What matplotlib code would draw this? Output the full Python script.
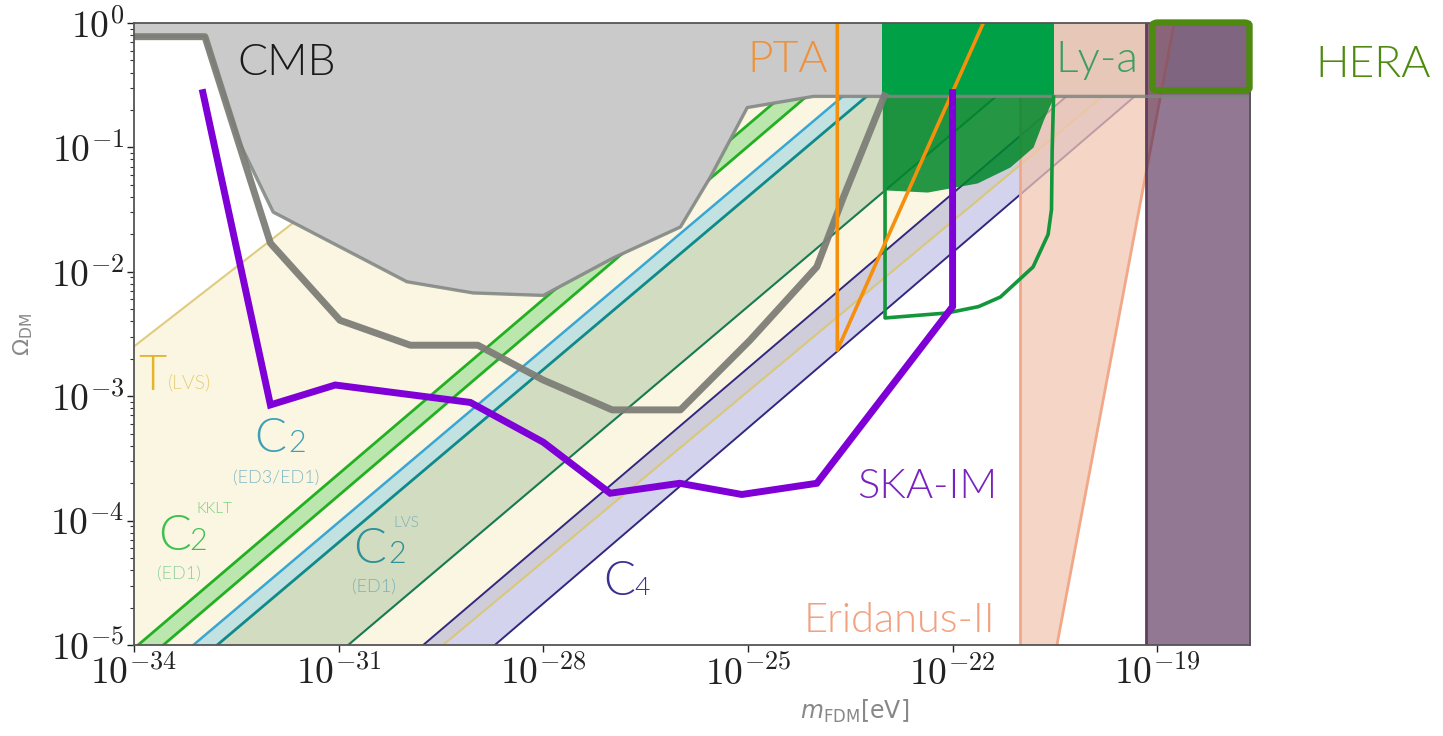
import numpy as np
import matplotlib
matplotlib.use('Agg')
import matplotlib.pyplot as plt
from matplotlib.ticker import FixedLocator, FuncFormatter, LogLocator, NullLocator
from matplotlib.patches import FancyBboxPatch

plt.rcParams['mathtext.fontset'] = 'cm'
plt.rcParams['font.family'] = ['Lato', 'DejaVu Sans']

# ---------------- data (log10 values) ----------------
X_LIM = (-34.0, -17.64)
Y_LIM = (-5.0, 0.0)
X_TICKS = [-34, -31, -28, -25, -22, -19]
Y_TICKS = [-5, -4, -3, -2, -1, 0]

# CMB excluded region (lower edge)
cmb_x = [-34.0, -32.96, -32.45, -31.96, -30.0, -29.03, -28.0, -26.98, -25.99, -25.55, -25.01, -24.04, -17.0]
cmb_y = [-0.11, -0.11, -0.965, -1.52, -2.08, -2.17, -2.19, -1.89, -1.64, -1.238, -0.68, -0.59, -0.59]

# thick gray forecast curve
cmbf_x = [-34.0, -32.96, -32.0, -30.98, -29.95, -28.96, -28.0, -26.99, -25.99, -24.97, -23.99, -23.60, -23.0]
cmbf_y = [-0.11, -0.11, -1.77, -2.39, -2.59, -2.59, -2.87, -3.11, -3.11, -2.55, -1.96, -1.40, -0.585]

# SKA-IM
ska_x = [-32.99, -32.0, -31.05, -29.07, -28.0, -27.02, -26.0, -25.09, -23.99, -22.0, -22.0]
ska_y = [-0.56, -3.07, -2.91, -3.05, -3.37, -3.78, -3.70, -3.79, -3.70, -2.28, -0.56]

# PTA
pta_x = [-23.69, -23.69, -21.55]
pta_y = [0.0, -2.63, 0.0]

# Ly-a : solid block above Omega=0.26, shaded part below, and outline
lya_block_x = [-23.03, -20.52]
lya_low_x = [-23.03, -22.99, -22.37, -21.64, -21.16, -20.82, -20.67, -20.52]
lya_low_y = [-1.342, -1.342, -1.359, -1.286, -1.158, -0.997, -0.780, -0.595]
lya_out_x = [-22.99, -22.99, -22.08, -21.62, -21.30, -20.82, -20.60, -20.55, -20.54, -20.52]
lya_out_y = [-0.595, -2.371, -2.331, -2.280, -2.203, -1.961, -1.700, -1.500, -1.021, -0.595]

# Eridanus-II
eri_left = -21.01
eri_right_x = [-20.47, -18.75]
eri_right_y = [-5.0, 0.0]

# HERA
hera_x = [-19.17, -17.0]

# Omega level where diagonal bands stop
OMEGA_TOP = -0.585
# diagonal lines: x at Omega=1e-5 and x at Omega=OMEGA_TOP
diag = {
    'G1': (-33.94, -24.50),
    'G2': (-33.57, -24.13),
    'B1': (-33.13, -23.60),
    'B2': (-32.78, -23.25),
    'DG': (-30.86, -21.35),
    'C4a': (-29.76, -20.32),
    'Y': (-29.47, -19.79),
    'C4b': (-28.71, -19.32),
}
# upper T(LVS) line: (x, y) end points
tup_x = [-34.0, -29.27]
tup_y = [-2.60, OMEGA_TOP]


def P(v):
    return np.power(10.0, np.asarray(v, dtype=float))


fig = plt.figure(figsize=(14.43, 7.36), dpi=100)
ax = fig.add_axes([0.09286, 0.12364, 0.77339, 0.84511])
ax.set_xscale('log')
ax.set_yscale('log')
ax.set_xlim(P(X_LIM[0]), P(X_LIM[1]))
ax.set_ylim(P(Y_LIM[0]), P(Y_LIM[1]))


def band(a, b, color, alpha, z):
    xa, ya = [diag[a][0], diag[a][1]], [Y_LIM[0], OMEGA_TOP]
    xb, yb = [diag[b][1], diag[b][0]], [OMEGA_TOP, Y_LIM[0]]
    ax.fill(P(xa + xb), P(ya + yb), color=color, alpha=alpha, lw=0, zorder=z)


# T(LVS) cream region
tx = [X_LIM[0], tup_x[0], tup_x[1], diag['Y'][1], diag['Y'][0]]
ty = [Y_LIM[0], tup_y[0], tup_y[1], OMEGA_TOP, Y_LIM[0]]
ax.fill(P(tx), P(ty), color='#f0e4a8', alpha=0.33, lw=0, zorder=1)

band('G1', 'G2', '#6fd46f', 0.45, 1.2)
band('B1', 'B2', '#7fcbe3', 0.45, 1.2)
band('B2', 'DG', '#80aa80', 0.33, 1.2)
band('C4a', 'C4b', '#8c8cd0', 0.38, 1.2)

line_styles = {
    'G1': ('#22b022', 2.0), 'G2': ('#22b022', 2.0),
    'B1': ('#3aa6d2', 1.8), 'B2': ('#0f8a8a', 2.0),
    'DG': ('#177a50', 1.5), 'C4a': ('#33287f', 1.4),
    'Y': ('#d8c878', 1.5), 'C4b': ('#33287f', 1.4),
}
for k, (c, lw) in line_styles.items():
    ax.plot(P(diag[k]), P([Y_LIM[0], OMEGA_TOP]), color=c, lw=lw, zorder=2)
ax.plot(P(tup_x), P(tup_y), color='#e0cc80', lw=1.5, zorder=2)

# CMB region
ax.fill_between(P(cmb_x), P(cmb_y), P(Y_LIM[1]), color='#cacaca', lw=0, zorder=3)

# Eridanus-II
ex = [eri_left, eri_right_x[0], eri_right_x[1], eri_left]
ey = [Y_LIM[0], eri_right_y[0], eri_right_y[1], Y_LIM[1]]
ax.fill(P(ex), P(ey), color='#f1c6b2', alpha=0.73, lw=0, zorder=4)
ax.plot(P([eri_left, eri_left]), P(Y_LIM), color='#f2a888', lw=2, zorder=4.1)
ax.plot(P(eri_right_x), P(eri_right_y), color='#f2a888', lw=2, zorder=4.1)

# Ly-a
ax.fill_between(P(lya_block_x), P(OMEGA_TOP), P(Y_LIM[1]), color='#00a046', lw=0, zorder=5)
ax.fill_between(P(lya_low_x), P(lya_low_y), P(OMEGA_TOP), color='#00872a', alpha=0.86, lw=0, zorder=5)

# HERA
ax.fill_between(P(hera_x), P(Y_LIM[0]), P(Y_LIM[1]), color='#552b55', alpha=0.636, lw=0, zorder=6)
ax.plot(P([hera_x[0], hera_x[0]]), P(Y_LIM), color='#5e3f5e', lw=2, zorder=6.1)

# CMB edge
ax.plot(P(cmb_x), P(cmb_y), color='#7f8580', lw=2.4, alpha=0.85, zorder=7)

# curves
ax.plot(P(lya_out_x), P(lya_out_y), color='#13963c', lw=2.6, zorder=8, solid_joinstyle='round')
ax.plot(P(cmbf_x), P(cmbf_y), color='#7e7e78', lw=5.0, alpha=0.95, zorder=8, solid_joinstyle='round')
ax.plot(P(pta_x), P(pta_y), color='#f5900c', lw=2.6, zorder=8.5)
ax.plot(P(ska_x), P(ska_y), color='#7f00d6', lw=5.0, zorder=9, solid_joinstyle='miter')

# ---------------- axes styling ----------------
ax.xaxis.set_major_locator(FixedLocator(P(X_TICKS)))
ax.xaxis.set_minor_locator(NullLocator())
ax.yaxis.set_major_locator(FixedLocator(P(Y_TICKS)))
ax.yaxis.set_minor_locator(LogLocator(base=10, subs=np.arange(2, 10), numticks=50))
fmt = FuncFormatter(lambda v, pos: r'$10^{%d}$' % int(round(np.log10(v))))
ax.xaxis.set_major_formatter(fmt)
ax.yaxis.set_major_formatter(fmt)
ax.yaxis.set_minor_formatter(FuncFormatter(lambda v, pos: ''))
ax.tick_params(which='major', labelsize=27, length=5, width=1.0, pad=2, colors='#222222')
ax.tick_params(which='minor', length=3, width=0.8, colors='#333333')
for s in ax.spines.values():
    s.set_color('#555555')
    s.set_linewidth(1.3)
    s.set_zorder(10)

ax.set_ylabel(r'$\Omega_{\rm DM}$', fontsize=16, color='#888888', math_fontfamily='dejavusans')
ax.yaxis.set_label_coords(-0.089, 0.5)
ax.set_xlabel(r'$m_{\rm FDM}$[eV]', fontsize=17, color='#888888', math_fontfamily='dejavusans',
              family='DejaVu Sans')
ax.xaxis.set_label_coords(0.646, -0.085)

# ---------------- labels ----------------
W = 300


def T(x, y, s, size, color, z=12):
    ax.text(P(x), P(y), s, fontsize=size, color=color, ha='left', va='baseline',
            fontweight=W, zorder=z)

T(-32.49, -0.418, 'CMB', 32, '#1a1a1a')
T(-25.01, -0.394, 'PTA', 32, '#f0913a')
T(-20.50, -0.394, 'Ly-a', 32, '#3a9f5f')
T(-23.40, -3.818, 'SKA-IM', 30, '#7a22c0')
T(-24.19, -4.895, 'Eridanus-II', 30, '#f2a07e')
T(-27.12, -4.598, 'C', 34, '#3b2f8f')
T(-26.66, -4.598, '4', 19, '#3b2f8f')
T(-33.94, -2.950, 'T', 35, '#e3b52b')
T(-33.50, -2.934, '(LVS)', 14, '#e9cf7a')
T(-32.23, -3.449, 'C', 34, '#3f9fb5')
T(-31.74, -3.449, '2', 22, '#3f9fb5')
T(-32.55, -3.698, '(ED3/ED1)', 13, '#82b8c4')
T(-33.65, -4.236, 'C', 35, '#3fbf4f')
T(-33.19, -4.236, '2', 22, '#3fbf4f')
T(-33.09, -3.939, 'KKLT', 11, '#6fcf7a')
T(-33.66, -4.470, '(ED1)', 13, '#8fcf98')
T(-30.79, -4.341, 'C', 35, '#2f8f98')
T(-30.27, -4.341, '2', 22, '#2f8f98')
T(-30.20, -4.051, 'LVS', 11, '#7fb0b5')
T(-30.80, -4.574, '(ED1)', 13, '#7fb0b5')

# HERA annotation (outside the axes)
box = FancyBboxPatch((0.7987, 0.8770), 0.0672, 0.0924,
                     boxstyle='round,pad=0,rounding_size=0.004',
                     transform=fig.transFigure, fill=False, ec='#4f8a10', lw=4.6, zorder=20)
fig.add_artist(box)
fig.text(1315 / 1443, 1 - 77 / 736, 'HERA', fontsize=32, color='#4f8a10', ha='left',
         va='baseline', fontweight=W, zorder=21)

fig.savefig('out.png', dpi=100)
